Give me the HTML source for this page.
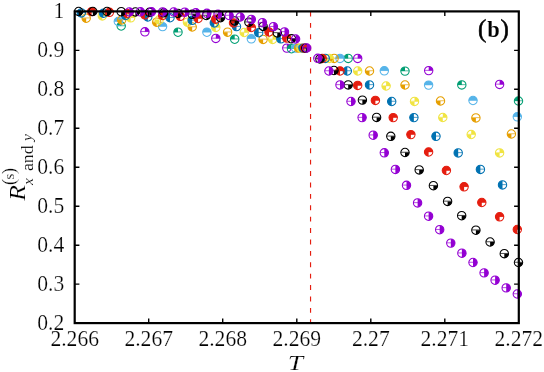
<!DOCTYPE html>
<html><head><meta charset="utf-8"><title>chart</title>
<style>
html,body{margin:0;padding:0;background:#fff;}
svg{display:block;font-family:"Liberation Serif",serif;}
</style></head><body>
<svg width="544" height="372" viewBox="0 0 544 372">
<rect width="544" height="372" fill="#fff"/>
<defs>
<g id="m1" fill="#9400D3" stroke="#9400D3"><path d="M0 0L4.20 -0.00A4.2 4.2 0 0 0 0.00 -4.20Z" stroke="none"/><circle r="4.2" fill="none" stroke-width="1.05"/><path d="M-4.2 -0.25H4.2" fill="none" stroke-width="0.7"/></g>
<g id="m2" fill="#009E73" stroke="#009E73"><path d="M0 0L0.00 -4.20A4.2 4.2 0 0 0 -4.20 -0.00Z" stroke="none"/><circle r="4.2" fill="none" stroke-width="1.05"/><path d="M-4.2 -0.25H4.2" fill="none" stroke-width="0.7"/></g>
<g id="m3" fill="#56B4E9" stroke="#56B4E9"><path d="M0 0L4.20 -0.00A4.2 4.2 0 0 0 -4.20 -0.00Z" stroke="none"/><circle r="4.2" fill="none" stroke-width="1.05"/><path d="M-4.2 -0.25H4.2" fill="none" stroke-width="0.7"/></g>
<g id="m4" fill="#E69F00" stroke="#E69F00"><path d="M0 0L-4.20 -0.00A4.2 4.2 0 0 0 -0.00 4.20Z" stroke="none"/><circle r="4.2" fill="none" stroke-width="1.05"/><path d="M-4.2 -0.25H4.2" fill="none" stroke-width="0.7"/></g>
<g id="m5" fill="#F0E442" stroke="#F0E442"><path d="M0 0L4.20 -0.00A4.2 4.2 0 0 0 0.00 -4.20ZM0 0L-4.20 -0.00A4.2 4.2 0 0 0 -0.00 4.20Z" stroke="none"/><circle r="4.2" fill="none" stroke-width="1.05"/><path d="M-4.2 -0.25H4.2" fill="none" stroke-width="0.7"/></g>
<g id="m6" fill="#0072B2" stroke="#0072B2"><path d="M0 0L0.00 -4.20A4.2 4.2 0 0 0 -0.00 4.20Z" stroke="none"/><circle r="4.2" fill="none" stroke-width="1.05"/><path d="M-4.2 -0.25H4.2" fill="none" stroke-width="0.7"/></g>
<g id="m7" fill="#E51E10" stroke="#E51E10"><path d="M0 0L4.20 -0.00A4.2 4.2 0 1 0 -0.00 4.20Z" stroke="none"/><circle r="4.2" fill="none" stroke-width="1.05"/><path d="M-4.2 -0.25H4.2" fill="none" stroke-width="0.7"/></g>
<g id="m8" fill="#000000" stroke="#000000"><path d="M0 0L-0.00 4.20A4.2 4.2 0 0 0 4.20 0.00Z" stroke="none"/><circle r="4.2" fill="none" stroke-width="1.05"/><path d="M-4.2 -0.25H4.2" fill="none" stroke-width="0.7"/></g>
<g id="m9" fill="#9400D3" stroke="#9400D3"><path d="M0 0L-0.00 4.20A4.2 4.2 0 0 0 0.00 -4.20Z" stroke="none"/><circle r="4.2" fill="none" stroke-width="1.05"/><path d="M-4.2 -0.25H4.2" fill="none" stroke-width="0.7"/></g>
</defs>
<path d="M310.55 11.5V323.1" stroke="#E51E10" stroke-width="1.15" stroke-dasharray="4.9 6.5" fill="none"/>
<g>
<use href="#m1" x="144.9" y="31.8"/>
<use href="#m1" x="215.8" y="38.4"/>
<use href="#m1" x="286.8" y="48.1"/>
<use href="#m1" x="357.7" y="58.4"/>
<use href="#m1" x="428.7" y="70.6"/>
<use href="#m1" x="499.6" y="84.4"/>
<use href="#m2" x="121.2" y="26.0"/>
<use href="#m2" x="178.0" y="32.2"/>
<use href="#m2" x="234.7" y="39.2"/>
<use href="#m2" x="291.5" y="48.7"/>
<use href="#m2" x="348.2" y="58.4"/>
<use href="#m2" x="405.0" y="71.1"/>
<use href="#m2" x="461.8" y="84.9"/>
<use href="#m2" x="518.5" y="101.0"/>
<use href="#m3" x="118.3" y="21.5"/>
<use href="#m3" x="162.6" y="26.6"/>
<use href="#m3" x="206.9" y="32.2"/>
<use href="#m3" x="251.3" y="38.8"/>
<use href="#m3" x="295.6" y="48.1"/>
<use href="#m3" x="340.0" y="58.4"/>
<use href="#m3" x="384.3" y="70.8"/>
<use href="#m3" x="428.6" y="85.1"/>
<use href="#m3" x="473.0" y="100.5"/>
<use href="#m3" x="517.3" y="116.8"/>
<use href="#m4" x="86.2" y="18.2"/>
<use href="#m4" x="121.7" y="20.0"/>
<use href="#m4" x="156.7" y="22.2"/>
<use href="#m4" x="192.2" y="27.0"/>
<use href="#m4" x="227.6" y="32.2"/>
<use href="#m4" x="263.1" y="39.4"/>
<use href="#m4" x="298.6" y="48.1"/>
<use href="#m4" x="334.1" y="58.4"/>
<use href="#m4" x="369.5" y="71.0"/>
<use href="#m4" x="405.0" y="85.0"/>
<use href="#m4" x="440.5" y="101.0"/>
<use href="#m4" x="475.9" y="117.9"/>
<use href="#m4" x="511.4" y="134.0"/>
<use href="#m5" x="102.3" y="15.9"/>
<use href="#m5" x="130.7" y="17.8"/>
<use href="#m5" x="159.1" y="20.0"/>
<use href="#m5" x="187.4" y="22.2"/>
<use href="#m5" x="215.8" y="27.4"/>
<use href="#m5" x="244.2" y="32.5"/>
<use href="#m5" x="272.6" y="39.4"/>
<use href="#m5" x="300.9" y="48.1"/>
<use href="#m5" x="329.3" y="58.4"/>
<use href="#m5" x="357.7" y="71.0"/>
<use href="#m5" x="386.1" y="86.0"/>
<use href="#m5" x="414.5" y="101.4"/>
<use href="#m5" x="442.8" y="117.5"/>
<use href="#m5" x="471.2" y="134.5"/>
<use href="#m5" x="499.6" y="152.9"/>
<use href="#m6" x="81.3" y="12.9"/>
<use href="#m6" x="103.5" y="13.2"/>
<use href="#m6" x="125.6" y="15.5"/>
<use href="#m6" x="147.8" y="17.0"/>
<use href="#m6" x="170.0" y="17.7"/>
<use href="#m6" x="192.2" y="20.3"/>
<use href="#m6" x="214.3" y="22.9"/>
<use href="#m6" x="236.5" y="26.6"/>
<use href="#m6" x="258.7" y="32.7"/>
<use href="#m6" x="280.8" y="38.8"/>
<use href="#m6" x="303.0" y="48.1"/>
<use href="#m6" x="325.2" y="58.4"/>
<use href="#m6" x="347.3" y="71.0"/>
<use href="#m6" x="369.5" y="84.9"/>
<use href="#m6" x="391.7" y="101.5"/>
<use href="#m6" x="413.9" y="117.6"/>
<use href="#m6" x="436.0" y="136.3"/>
<use href="#m6" x="458.2" y="152.9"/>
<use href="#m6" x="480.4" y="169.4"/>
<use href="#m6" x="502.5" y="184.9"/>
<use href="#m7" x="91.6" y="11.6"/>
<use href="#m7" x="109.4" y="12.3"/>
<use href="#m7" x="127.1" y="13.5"/>
<use href="#m7" x="144.9" y="14.8"/>
<use href="#m7" x="162.6" y="15.5"/>
<use href="#m7" x="180.3" y="16.3"/>
<use href="#m7" x="198.1" y="18.5"/>
<use href="#m7" x="215.8" y="19.2"/>
<use href="#m7" x="233.5" y="22.9"/>
<use href="#m7" x="251.3" y="27.5"/>
<use href="#m7" x="269.0" y="32.0"/>
<use href="#m7" x="286.7" y="38.1"/>
<use href="#m7" x="304.5" y="48.1"/>
<use href="#m7" x="322.2" y="58.4"/>
<use href="#m7" x="340.0" y="71.0"/>
<use href="#m7" x="357.7" y="85.4"/>
<use href="#m7" x="375.4" y="100.4"/>
<use href="#m7" x="393.2" y="117.6"/>
<use href="#m7" x="410.9" y="134.6"/>
<use href="#m7" x="428.6" y="152.0"/>
<use href="#m7" x="446.4" y="170.5"/>
<use href="#m7" x="464.1" y="186.8"/>
<use href="#m7" x="481.8" y="202.5"/>
<use href="#m7" x="499.6" y="216.8"/>
<use href="#m7" x="517.3" y="229.5"/>
<use href="#m8" x="78.6" y="11.5"/>
<use href="#m8" x="92.8" y="11.5"/>
<use href="#m8" x="107.0" y="11.5"/>
<use href="#m8" x="121.2" y="11.7"/>
<use href="#m8" x="135.4" y="12.0"/>
<use href="#m8" x="149.6" y="12.3"/>
<use href="#m8" x="163.8" y="12.8"/>
<use href="#m8" x="178.0" y="13.4"/>
<use href="#m8" x="192.2" y="14.3"/>
<use href="#m8" x="206.3" y="15.5"/>
<use href="#m8" x="220.5" y="17.7"/>
<use href="#m8" x="234.7" y="21.0"/>
<use href="#m8" x="248.9" y="22.2"/>
<use href="#m8" x="263.1" y="26.4"/>
<use href="#m8" x="277.3" y="32.9"/>
<use href="#m8" x="291.5" y="38.8"/>
<use href="#m8" x="305.7" y="48.1"/>
<use href="#m8" x="319.9" y="58.9"/>
<use href="#m8" x="334.0" y="70.5"/>
<use href="#m8" x="348.2" y="84.9"/>
<use href="#m8" x="362.4" y="100.1"/>
<use href="#m8" x="376.6" y="117.4"/>
<use href="#m8" x="390.8" y="136.3"/>
<use href="#m8" x="405.0" y="152.5"/>
<use href="#m8" x="419.2" y="169.9"/>
<use href="#m8" x="433.4" y="185.7"/>
<use href="#m8" x="447.6" y="201.4"/>
<use href="#m8" x="461.7" y="215.7"/>
<use href="#m8" x="475.9" y="230.2"/>
<use href="#m8" x="490.1" y="242.0"/>
<use href="#m8" x="504.3" y="253.7"/>
<use href="#m8" x="518.5" y="262.5"/>
<use href="#m9" x="129.3" y="12.0"/>
<use href="#m9" x="140.4" y="11.8"/>
<use href="#m9" x="151.5" y="11.8"/>
<use href="#m9" x="162.6" y="11.9"/>
<use href="#m9" x="173.7" y="12.0"/>
<use href="#m9" x="184.8" y="12.2"/>
<use href="#m9" x="195.8" y="12.8"/>
<use href="#m9" x="206.9" y="13.3"/>
<use href="#m9" x="218.0" y="14.1"/>
<use href="#m9" x="229.1" y="15.5"/>
<use href="#m9" x="240.2" y="17.0"/>
<use href="#m9" x="251.3" y="19.4"/>
<use href="#m9" x="262.4" y="22.7"/>
<use href="#m9" x="273.4" y="26.7"/>
<use href="#m9" x="284.5" y="31.9"/>
<use href="#m9" x="295.6" y="39.0"/>
<use href="#m9" x="306.7" y="48.0"/>
<use href="#m9" x="317.8" y="58.3"/>
<use href="#m9" x="328.9" y="71.0"/>
<use href="#m9" x="340.0" y="84.9"/>
<use href="#m9" x="351.0" y="101.5"/>
<use href="#m9" x="362.1" y="117.6"/>
<use href="#m9" x="373.2" y="135.2"/>
<use href="#m9" x="384.3" y="152.8"/>
<use href="#m9" x="395.4" y="169.4"/>
<use href="#m9" x="406.5" y="185.3"/>
<use href="#m9" x="417.6" y="202.9"/>
<use href="#m9" x="428.6" y="216.2"/>
<use href="#m9" x="439.7" y="229.7"/>
<use href="#m9" x="450.8" y="243.1"/>
<use href="#m9" x="461.9" y="253.2"/>
<use href="#m9" x="473.0" y="262.5"/>
<use href="#m9" x="484.1" y="272.9"/>
<use href="#m9" x="495.1" y="280.2"/>
<use href="#m9" x="506.2" y="287.9"/>
<use href="#m9" x="517.3" y="294.0"/>
</g>
<rect x="74.7" y="11.4" width="444.09999999999997" height="311.70000000000005" fill="none" stroke="#000" stroke-width="2.2"/>
<path d="M148.7 323.1v-4.7M148.7 11.4v4.7M222.7 323.1v-4.7M222.7 11.4v4.7M296.8 323.1v-4.7M296.8 11.4v4.7M370.8 323.1v-4.7M370.8 11.4v4.7M444.8 323.1v-4.7M444.8 11.4v4.7M74.7 50.4h4.7M518.8 50.4h-4.7M74.7 89.3h4.7M518.8 89.3h-4.7M74.7 128.3h4.7M518.8 128.3h-4.7M74.7 167.3h4.7M518.8 167.3h-4.7M74.7 206.2h4.7M518.8 206.2h-4.7M74.7 245.2h4.7M518.8 245.2h-4.7M74.7 284.1h4.7M518.8 284.1h-4.7" stroke="#000" stroke-width="1.4" fill="none"/>
<g font-size="21.6px" fill="#000" opacity="0.999" stroke="#fff" stroke-width="0.22">
<text transform="translate(74.7,345.9) scale(1,1.09)" text-anchor="middle">2.266</text>
<text transform="translate(148.7,345.9) scale(1,1.09)" text-anchor="middle">2.267</text>
<text transform="translate(222.7,345.9) scale(1,1.09)" text-anchor="middle">2.268</text>
<text transform="translate(296.8,345.9) scale(1,1.09)" text-anchor="middle">2.269</text>
<text transform="translate(370.8,345.9) scale(1,1.09)" text-anchor="middle">2.27</text>
<text transform="translate(444.8,345.9) scale(1,1.09)" text-anchor="middle">2.271</text>
<text transform="translate(518.8,345.9) scale(1,1.09)" text-anchor="middle">2.272</text>
<text transform="translate(64.2,17.9) scale(1,1.07)" text-anchor="end">1</text>
<text transform="translate(64.2,56.9) scale(1,1.07)" text-anchor="end">0.9</text>
<text transform="translate(64.2,95.8) scale(1,1.07)" text-anchor="end">0.8</text>
<text transform="translate(64.2,134.8) scale(1,1.07)" text-anchor="end">0.7</text>
<text transform="translate(64.2,173.8) scale(1,1.07)" text-anchor="end">0.6</text>
<text transform="translate(64.2,212.7) scale(1,1.07)" text-anchor="end">0.5</text>
<text transform="translate(64.2,251.7) scale(1,1.07)" text-anchor="end">0.4</text>
<text transform="translate(64.2,290.6) scale(1,1.07)" text-anchor="end">0.3</text>
<text transform="translate(64.2,329.6) scale(1,1.07)" text-anchor="end">0.2</text>
<text transform="translate(295.4,370.4) scale(1.3,1)" text-anchor="middle" font-style="italic" font-size="21.2px" letter-spacing="0">T</text>
<g font-weight="bold" letter-spacing="0">
<text x="478.0" y="36.8" font-size="25px" font-weight="normal" stroke="#000" stroke-width="0.55">(</text>
<text x="487.2" y="36.8" font-size="22.5px" stroke="#fff" stroke-width="0.12">b</text>
<text x="500.6" y="36.8" font-size="25px" font-weight="normal" stroke="#000" stroke-width="0.55">)</text>
</g>
<g transform="translate(25,201) rotate(-90)" letter-spacing="0" stroke-width="0.18">
<text transform="translate(0.2,0) scale(1.15,1)" font-style="italic" font-size="22.4px">R</text>
<text x="16.1" y="-10.4" font-size="18px">(</text>
<text x="21.6" y="-10.7" font-size="15px">s</text>
<text x="26.9" y="-10.4" font-size="18px">)</text>
<text x="16.1" y="8" font-size="15.5px" font-style="italic">x</text>
<text transform="translate(29.9,7.8) scale(1.13,1)" font-size="15.8px">and</text>
<text x="60.1" y="7.2" font-size="15.5px" font-style="italic">y</text>
</g>
</g>
</svg>
</body></html>
